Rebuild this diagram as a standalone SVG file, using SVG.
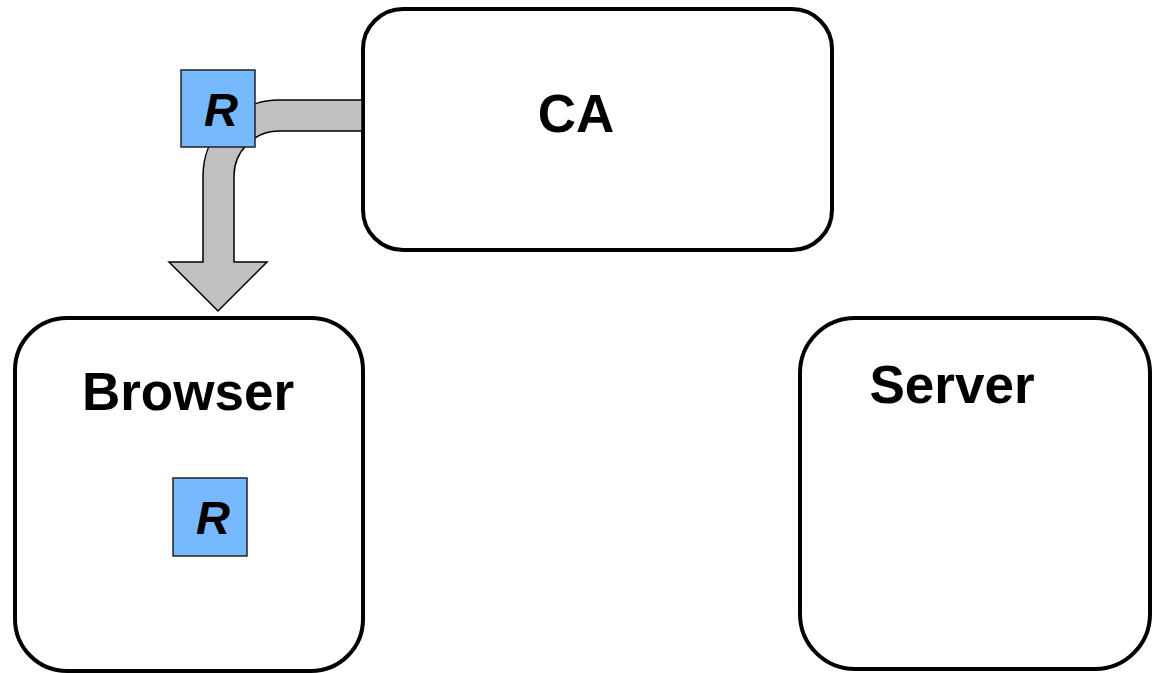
<svg xmlns="http://www.w3.org/2000/svg" width="1154" height="673" viewBox="0 0 1154 673">
<style>
.box{fill:#fff;stroke:#000;stroke-width:4}
.lbl{font-family:"Liberation Sans",Arial,sans-serif;font-weight:bold;font-size:53px;fill:#000;text-anchor:middle}
.r{fill:#77b9ff;stroke:#222;stroke-width:1.5}
.rt{font-family:"Liberation Sans",Arial,sans-serif;font-weight:bold;font-style:italic;font-size:47px;fill:#000;text-anchor:middle}
.arrow{fill:#c0c0c0;stroke:#000;stroke-width:1.5;stroke-linejoin:miter}
</style>
<g id="ca">
<rect class="box" x="363" y="9" width="469" height="241" rx="40" ry="40"/>
<text class="lbl" x="576" y="132">CA</text>
</g>
<g id="browser">
<rect class="box" x="15" y="318" width="348" height="353" rx="52" ry="52"/>
<text class="lbl" x="188" y="410">Browser</text>
</g>
<g id="server">
<rect class="box" x="800" y="318" width="350" height="351" rx="55" ry="55"/>
<text class="lbl" x="952" y="403">Server</text>
</g>
<g id="connectors">
<path class="arrow" d="M 362 100 L 279 100 A 76 76 0 0 0 203 176 L 203 262 L 169 262 L 218 311 L 267 262 L 234 262 L 234 176 A 45 45 0 0 1 279 131 L 362 131 Z"/>
</g>
<g id="r-ca">
<rect class="r" x="181" y="70" width="74" height="77"/>
<text class="rt" x="221" y="126">R</text>
</g>
<g id="r-browser">
<rect class="r" x="173" y="478" width="74" height="78"/>
<text class="rt" x="213" y="534">R</text>
</g>
</svg>
